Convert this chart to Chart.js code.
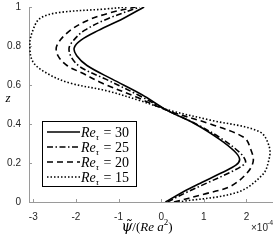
<!DOCTYPE html>
<html>
<head>
<meta charset="utf-8">
<script src="https://cdn.jsdelivr.net/npm/chart.js@4"></script>
<style>
  html, body { margin: 0; padding: 0; background: #fff; }
  canvas { display: block; }
</style>
</head>
<body>
<canvas id="psi-chart" width="274" height="241"></canvas>
<script>
// streamfunction profiles, psi in units of 1e-4
var z30 = [0, 0.05, 0.10, 0.15, 0.19, 0.22, 0.26, 0.32, 0.40, 0.47, 0.55, 0.63, 0.70, 0.75, 0.79, 0.83, 0.88, 0.94, 1.0];
var psi30 = [0.1, 0.5, 0.95, 1.42, 1.76, 1.84, 1.72, 1.38, 0.8, 0.14, -0.45, -1.15, -1.74, -1.98, -2.04, -1.88, -1.47, -0.9, -0.4];

var z25 = [0, 0.05, 0.10, 0.15, 0.19, 0.21, 0.25, 0.32, 0.40, 0.47, 0.55, 0.63, 0.69, 0.74, 0.79, 0.83, 0.88, 0.94, 1.0];
var psi25 = [0.15, 0.6, 1.1, 1.6, 1.93, 1.98, 1.86, 1.45, 0.82, 0.14, -0.55, -1.3, -1.88, -2.1, -2.16, -2.05, -1.8, -1.25, -0.5];

var z20 = [0, 0.04, 0.08, 0.15, 0.21, 0.27, 0.33, 0.40, 0.47, 0.54, 0.61, 0.66, 0.70, 0.75, 0.80, 0.87, 0.93, 0.97, 1.0];
var psi20 = [0.3, 1.0, 1.62, 2.02, 2.16, 2.1, 1.95, 1.15, 0.14, -0.6, -1.39, -1.84, -2.21, -2.42, -2.45, -2.19, -1.74, -1.2, -0.6];

var z15 = [0, 0.05, 0.14, 0.21, 0.28, 0.36, 0.42, 0.47, 0.52, 0.57, 0.61, 0.66, 0.72, 0.81, 0.88, 0.94, 0.97, 0.99, 1.0];
var psi15 = [0.4, 1.79, 2.38, 2.52, 2.54, 2.31, 1.15, 0.2, -0.5, -1.27, -2.14, -2.68, -3.01, -3.08, -3.01, -2.85, -2.45, -1.3, -0.8];

var reLabels = ['30', '25', '20', '15'];
var xTicks = [-3, -2, -1, 0, 1, 2];
var yTicks = [0, 0.2, 0.4, 0.6, 0.8, 1];

var dashes = [[], [6, 2.5, 1.5, 2.5], [6, 4], [1.5, 2]];
var AXIS_GRAY = '#9a9a9a';
var TEXT_GRAY = '#262626';

function toPoints(xs, zs) {
  return xs.map(function(x, i) { return { x: x, y: zs[i] }; });
}

function makeSet(xs, zs, idx) {
  return {
    data: toPoints(xs, zs),
    showLine: true,
    borderColor: '#000',
    borderWidth: 1.6,
    borderDash: dashes[idx],
    pointRadius: 0,
    tension: 0.35,
    fill: false
  };
}

// inward ticks, legend and axis texts
var decorPlugin = {
  id: 'decor',
  afterDraw: function(chart) {
    var ctx = chart.ctx;
    var xs = chart.scales.x, ys = chart.scales.y;
    var area = chart.chartArea;
    ctx.save();
    ctx.strokeStyle = AXIS_GRAY;
    ctx.lineWidth = 1;
    xTicks.forEach(function(v) {
      var px = Math.round(xs.getPixelForValue(v)) + 0.5;
      ctx.beginPath();
      ctx.moveTo(px, area.bottom);
      ctx.lineTo(px, area.bottom - 3);
      ctx.stroke();
    });
    yTicks.forEach(function(v) {
      var py = Math.round(ys.getPixelForValue(v)) + 0.5;
      ctx.beginPath();
      ctx.moveTo(area.left, py);
      ctx.lineTo(area.left + 3, py);
      ctx.stroke();
    });

    // legend
    var bx = 42.5, by = 121.5, bw = 94, bh = 65;
    ctx.fillStyle = '#fff';
    ctx.fillRect(bx, by, bw, bh);
    ctx.strokeStyle = '#000';
    ctx.lineWidth = 1;
    ctx.strokeRect(bx, by, bw, bh);
    reLabels.forEach(function(lab, i) {
      var cy = 132 + i * 15;
      ctx.setLineDash(dashes[i]);
      ctx.lineWidth = 1.6;
      ctx.beginPath();
      ctx.moveTo(47, cy);
      ctx.lineTo(80, cy);
      ctx.stroke();
      ctx.setLineDash([]);
      ctx.fillStyle = '#000';
      ctx.textBaseline = 'alphabetic';
      ctx.textAlign = 'left';
      var tx = 81;
      ctx.font = 'italic 14px "Liberation Serif"';
      ctx.fillText('Re', tx, cy + 5);
      tx += ctx.measureText('Re').width;
      ctx.font = 'italic 9px "Liberation Serif"';
      ctx.fillText('\u03c4', tx, cy + 8);
      tx += ctx.measureText('\u03c4').width + 1;
      ctx.font = '14px "Liberation Serif"';
      ctx.fillText(' = ' + lab, tx, cy + 5);
    });

    // y label
    ctx.fillStyle = '#000';
    ctx.font = 'italic 13px "Liberation Serif"';
    ctx.textAlign = 'center';
    ctx.fillText('z', 8, 102);

    // x label  psi~/(Re a^2)
    var parts = [
      { t: '\u03c8\u0303', f: 'italic 14px "DejaVu Serif"', dy: 0 },
      { t: '/(', f: '13px "Liberation Serif"', dy: 0 },
      { t: 'Re', f: 'italic 13px "Liberation Serif"', dy: 0 },
      { t: ' a', f: 'italic 13px "Liberation Serif"', dy: 0 },
      { t: '2', f: '9px "Liberation Serif"', dy: -6 },
      { t: ')', f: '13px "Liberation Serif"', dy: 0 }
    ];
    var total = 0;
    parts.forEach(function(p) { ctx.font = p.f; p.w = ctx.measureText(p.t).width; total += p.w; });
    var lx = 147 - total / 2, base = 231;
    ctx.textAlign = 'left';
    parts.forEach(function(p) {
      ctx.font = p.f;
      ctx.fillText(p.t, lx, base + p.dy);
      lx += p.w;
    });

    // exponent
    ctx.fillStyle = TEXT_GRAY;
    ctx.font = '10px "Liberation Sans"';
    ctx.fillText('\u00d710', 251, 231);
    ctx.font = '7px "Liberation Sans"';
    ctx.fillText('-4', 267, 225);
    ctx.restore();
  }
};

new Chart(document.getElementById('psi-chart').getContext('2d'), {
  type: 'scatter',
  data: {
    datasets: [
      makeSet(psi30, z30, 0),
      makeSet(psi25, z25, 1),
      makeSet(psi20, z20, 2),
      makeSet(psi15, z15, 3)
    ]
  },
  options: {
    responsive: false,
    animation: false,
    layout: { padding: { top: 7, right: 2, left: 0, bottom: 0 } },
    plugins: { legend: { display: false }, tooltip: { enabled: false } },
    scales: {
      x: {
        type: 'linear', min: -3.1, max: 2.6,
        afterBuildTicks: function(s) { s.ticks = xTicks.map(function(v) { return { value: v }; }); },
        afterFit: function(s) { s.height = 39; s.paddingLeft = 0; s.paddingRight = 0; },
        grid: { display: false, drawTicks: false },
        border: { display: true, color: AXIS_GRAY, width: 1 },
        ticks: { color: TEXT_GRAY, padding: 9, font: { family: 'Liberation Sans', size: 10 }, maxRotation: 0,
          callback: function(v) { return String(v); } }
      },
      y: {
        type: 'linear', min: 0, max: 1,
        afterBuildTicks: function(s) { s.ticks = yTicks.map(function(v) { return { value: v }; }); },
        afterFit: function(s) { s.width = 29; s.paddingTop = 0; s.paddingBottom = 0; },
        grid: { display: false, drawTicks: false },
        border: { display: true, color: AXIS_GRAY, width: 1 },
        ticks: { color: TEXT_GRAY, padding: 8, font: { family: 'Liberation Sans', size: 10 },
          callback: function(v) { return String(v); } }
      }
    }
  },
  plugins: [decorPlugin]
});
</script>
</body>
</html>
